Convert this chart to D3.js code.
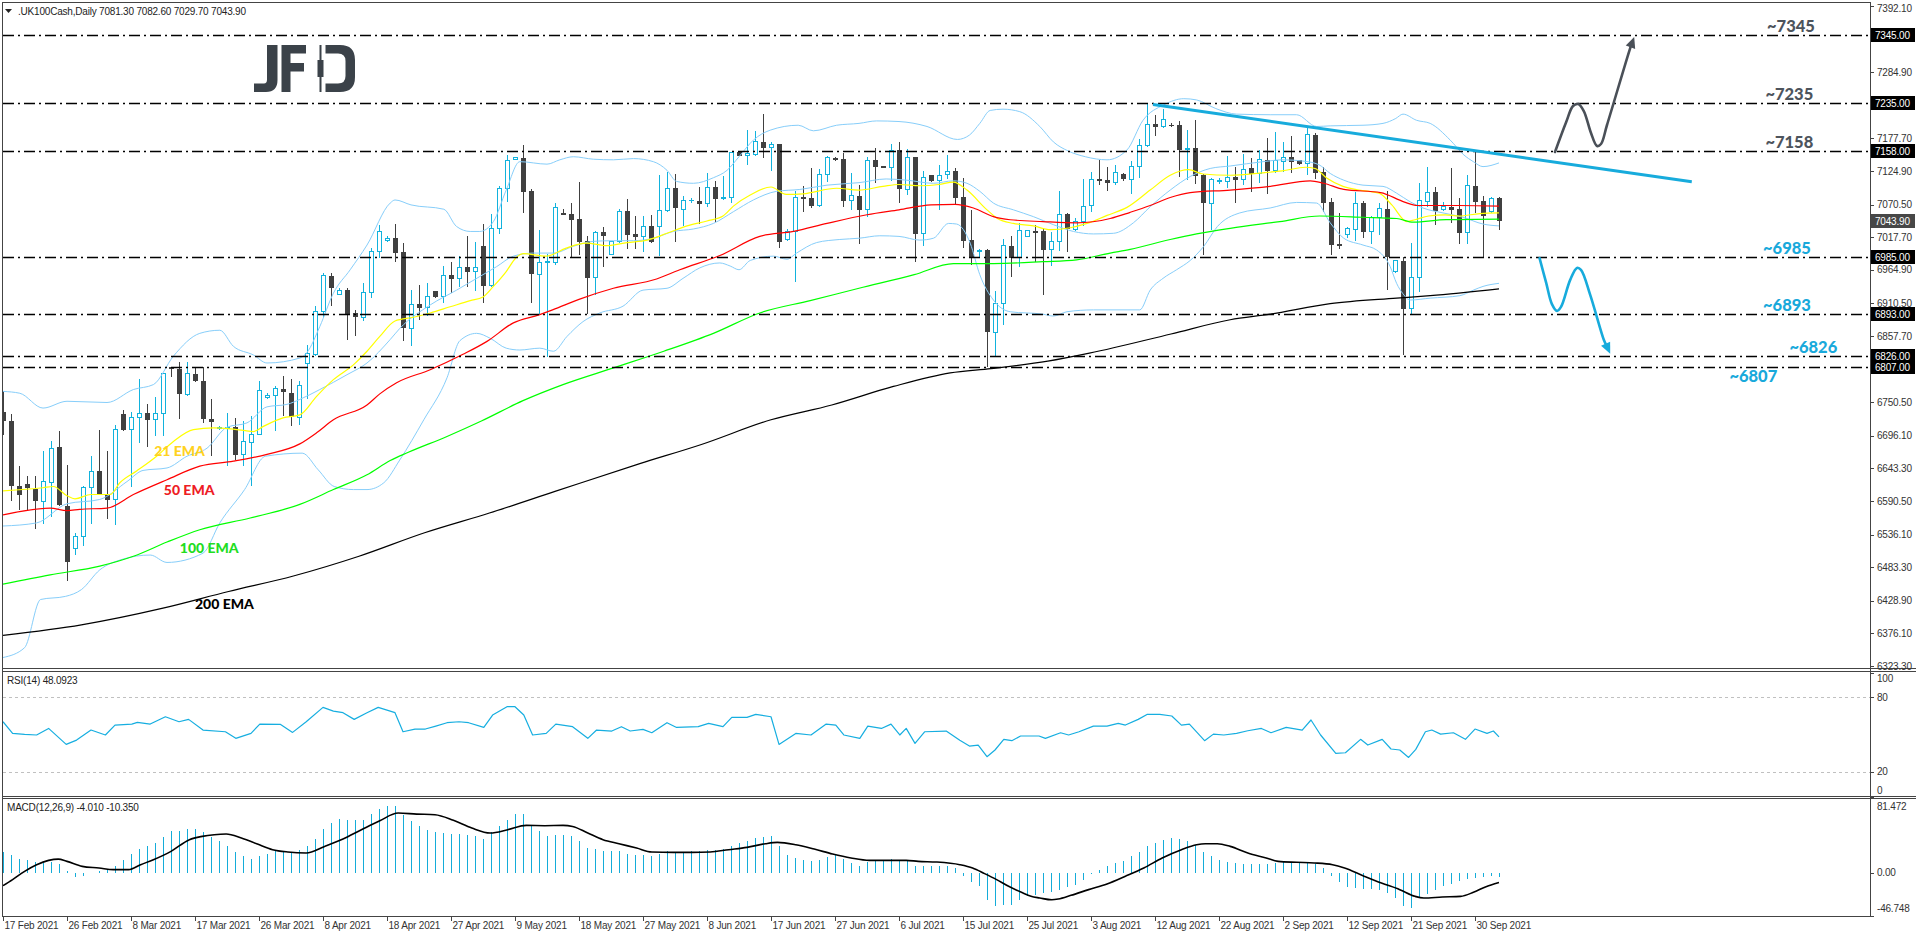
<!DOCTYPE html>
<html>
<head>
<meta charset="utf-8">
<script src="https://cdn.jsdelivr.net/npm/d3@7"></script>
<style>
  html, body { margin: 0; padding: 0; background: #fff; overflow: hidden; }
  svg text { font-family: "Liberation Sans", Arial, sans-serif; }
</style>
</head>
<body>
<svg id="chart" width="1916" height="936"></svg>
<script>
// ---- daily candles (bar 0 = 17 Feb 2021) ----
const opens = [
  6734.5,6720.5,6615.4,6618.6,6610.5,6590.0,6620.7,6677.4,6583.0,6512.9,
  6532.3,6611.6,6639.6,6600.8,6592.7,6731.8,6705.9,6726.4,6732.9,6723.2,
  6732.9,6806.8,6804.6,6763.6,6796.5,6785.2,6723.7,6708.1,6708.1,6710.3,
  6665.5,6685.5,6698.9,6758.3,6761.5,6772.3,6765.3,6726.4,6813.8,6827.3,
  6897.4,6955.1,6925.4,6932.5,6894.7,6888.2,6928.7,6994.5,7011.7,7016.0,
  6993.4,6870.4,6909.2,6904.4,6930.8,6921.6,6956.7,6951.3,6969.1,6962.1,
  7003.6,6939.4,7032.2,7095.8,7143.8,7146.0,7092.6,6957.8,6976.6,6976.6,
  7056.5,7055.4,7047.3,7011.7,6952.4,7025.7,6990.1,7010.6,7059.7,7023.0,
  7018.7,7036.0,7034.9,7060.8,7096.9,7062.9,7076.4,7076.4,7072.1,7099.6,
  7080.2,7082.3,7155.2,7150.3,7151.9,7172.4,7163.2,7168.6,7014.4,7026.8,
  7082.3,7081.3,7068.9,7119.6,7145.4,7143.8,7077.5,7084.5,7062.9,7142.7,
  7132.5,7130.3,7158.9,7095.3,7147.1,7023.0,7118.5,7109.3,7119.6,7124.9,
  7082.3,7013.3,6995.0,6997.1,6863.4,6910.8,7003.6,6984.7,7018.7,7027.9,
  7027.9,6998.2,7010.6,7055.4,7029.5,7043.0,7068.3,7112.0,7110.4,7106.6,
  7119.6,7111.5,7132.0,7165.9,7201.0,7196.7,7199.4,7199.4,7160.0,7161.6,
  7118.5,7072.6,7107.2,7107.7,7114.7,7111.5,7129.3,7121.2,7142.7,7125.5,
  7140.1,7147.1,7142.7,7137.4,7183.2,7123.3,7074.8,7006.9,7022.5,7030.6,
  7073.2,7026.8,7050.0,7063.5,6962.1,6979.3,6901.7,6952.9,7075.3,7091.0,
  7062.9,7066.7,7063.5,7025.2,7100.7,7076.4,7059.2,7081.3
];
const highs = [
  6769.0,6731.3,6647.7,6630.4,6630.4,6672.0,6687.1,6704.3,6648.2,6538.8,
  6615.4,6662.8,6705.9,6670.9,6714.0,6737.2,6734.0,6787.9,6748.0,6758.8,
  6797.6,6807.3,6815.4,6814.9,6807.3,6807.3,6755.6,6712.4,6732.9,6724.8,
  6719.4,6727.5,6784.1,6765.3,6777.1,6793.3,6787.9,6785.2,6843.5,6906.6,
  6960.5,6959.4,6936.2,6935.1,6900.1,6944.3,6999.9,7037.6,7019.8,7038.7,
  7007.9,6932.4,6940.5,6944.3,6930.8,6971.3,6977.7,6987.4,7019.8,7009.5,
  7038.7,7054.8,7100.7,7150.8,7148.1,7167.0,7095.8,7029.5,6990.7,7072.6,
  7063.5,7072.6,7106.6,7019.8,7028.4,7033.8,7010.6,7063.5,7079.7,7052.1,
  7052.1,7053.8,7118.5,7123.9,7119.6,7084.5,7080.7,7098.5,7121.2,7109.3,
  7116.9,7156.2,7157.8,7191.3,7189.7,7217.2,7171.3,7168.6,7030.6,7092.6,
  7100.7,7129.3,7128.2,7149.2,7147.1,7153.5,7121.2,7102.3,7147.1,7161.6,
  7133.6,7168.6,7171.3,7160.0,7147.1,7125.0,7118.5,7134.7,7150.8,7130.3,
  7113.1,7061.9,6998.2,6998.2,6930.8,7014.4,7019.8,7040.3,7028.4,7037.6,
  7033.3,7025.7,7092.6,7056.5,7048.4,7111.5,7123.3,7142.7,7130.9,7134.7,
  7121.2,7141.1,7176.2,7234.4,7215.6,7224.7,7202.1,7205.8,7191.3,7207.5,
  7119.6,7113.1,7113.1,7149.2,7132.0,7152.5,7145.4,7158.9,7178.9,7188.6,
  7172.4,7182.1,7142.7,7195.6,7185.9,7132.0,7081.8,7057.5,7033.8,7091.5,
  7076.4,7052.7,7072.6,7092.6,6979.9,6985.3,7007.9,7105.0,7130.9,7098.5,
  7074.3,7129.3,7080.7,7118.5,7158.9,7084.5,7082.3,7082.6
];
const lows = [
  6697.9,6590.0,6576.5,6576.5,6545.2,6553.3,6564.1,6581.9,6460.6,6502.6,
  6517.2,6553.3,6599.7,6561.9,6551.2,6703.2,6613.2,6684.4,6677.4,6695.2,
  6695.2,6791.2,6723.2,6759.9,6783.1,6716.7,6662.8,6704.9,6647.7,6657.4,
  6647.7,6614.3,6696.8,6755.6,6703.2,6727.5,6711.3,6714.0,6756.1,6824.6,
  6886.6,6905.5,6924.4,6851.6,6857.0,6881.2,6919.0,6983.7,7010.7,6978.3,
  6850.4,6840.7,6883.9,6889.3,6920.0,6910.8,6927.0,6937.8,6937.8,6930.8,
  6910.8,6937.8,7023.0,7075.3,7142.7,7057.5,6910.8,6893.6,6822.9,6972.9,
  7053.8,6986.4,6989.0,6893.1,6923.3,6970.2,6989.0,7009.0,6998.8,6998.8,
  6993.4,7009.0,6988.0,7059.2,7010.6,7036.0,7073.7,7039.2,7067.3,7043.0,
  7078.0,7073.7,7149.8,7135.2,7149.8,7146.5,7125.5,7000.9,7012.2,6945.9,
  7059.2,7064.5,7067.3,7107.7,7141.7,7067.3,7061.9,7006.8,7050.0,7106.1,
  7130.3,7109.3,7073.7,7086.1,6978.3,7003.6,7107.7,7061.9,7111.5,7071.0,
  7000.9,6972.9,6983.6,6807.3,6824.6,6875.8,6954.0,6970.2,7018.2,6978.3,
  6924.3,6971.8,6996.1,6993.9,7027.9,7036.0,7059.2,7102.3,7093.1,7102.3,
  7108.8,7087.2,7114.2,7164.3,7182.1,7194.0,7196.7,7115.8,7110.4,7103.9,
  6989.0,7029.5,7103.4,7098.0,7073.7,7102.3,7091.5,7105.0,7087.7,7121.2,
  7123.9,7121.2,7134.7,7118.5,7111.5,7059.2,6989.0,6998.8,7017.1,7011.7,
  7017.1,7006.8,7021.4,6932.4,6960.5,6826.2,6892.0,6928.7,7067.3,7037.6,
  7060.2,7041.4,7006.8,7006.8,7056.5,6985.3,7057.5,7029.7
];
const closes = [
  6719.4,6614.3,6599.7,6611.6,6590.0,6621.3,6676.3,6583.5,6491.3,6532.3,
  6611.6,6638.5,6600.8,6592.7,6705.9,6705.9,6726.4,6732.9,6722.1,6732.9,
  6796.5,6804.1,6763.6,6796.5,6784.1,6723.2,6717.8,6709.7,6710.3,6665.5,
  6687.1,6698.9,6769.0,6762.0,6772.3,6766.3,6725.9,6778.2,6830.0,6897.4,
  6955.1,6935.1,6930.8,6893.6,6887.7,6928.7,6994.5,7026.8,7016.0,6992.8,
  6870.4,6909.2,6903.8,6921.6,6921.6,6955.6,6950.8,6969.1,6962.1,6969.1,
  6939.4,7032.2,7095.8,7141.1,7146.0,7091.5,6957.8,6977.2,6977.7,7066.2,
  7054.3,7046.2,7010.6,6952.4,7025.7,7020.3,7010.6,7059.2,7021.9,7018.7,
  7034.9,7010.6,7060.8,7096.9,7064.5,7076.9,7077.5,7072.1,7098.5,7079.6,
  7082.3,7155.2,7149.8,7152.5,7172.4,7162.7,7168.1,7010.6,7026.8,7082.3,
  7080.2,7068.9,7119.6,7147.1,7143.3,7076.9,7084.5,7061.9,7142.7,7132.0,
  7130.9,7158.9,7095.3,7147.1,7023.0,7114.7,7108.8,7117.4,7124.9,7081.8,
  7011.7,6984.7,6996.1,6863.4,6910.8,7003.6,6983.7,7028.9,7027.9,7025.2,
  6997.1,7010.6,7054.8,7031.1,7043.0,7067.3,7111.5,7109.3,7106.1,7122.8,
  7111.5,7132.0,7165.9,7201.0,7196.7,7207.5,7198.3,7158.9,7161.6,7117.4,
  7072.6,7111.5,7108.8,7114.7,7110.9,7127.6,7120.1,7143.8,7125.5,7141.7,
  7147.1,7140.1,7136.3,7183.2,7122.3,7073.7,7005.8,7004.1,7031.1,7072.6,
  7026.8,7050.0,7063.5,6985.3,6979.3,6901.7,6952.9,7076.4,7090.4,7060.8,
  7066.7,7061.9,7025.2,7100.7,7075.3,7052.1,7080.7,7043.9
];

// ---- indicator lines, [bar, value] points ----
const ema21 = [[0,6607],[5,6612],[6.3,6614],[8,6599],[9,6594],[11,6601],[13.4,6601],[14.6,6620],[16.7,6639],[19.2,6663],[21.3,6687],[23.8,6706],[26.3,6709],[28.8,6707],[31.3,6703],[32.5,6711],[35,6725],[37.1,6730],[39.2,6760],[41.3,6787],[43.8,6811],[45.5,6833],[47.1,6857],[49,6882],[51.3,6888],[53.4,6895],[55.9,6905],[58.4,6915],[60,6921],[61.3,6938],[62.9,6962],[64.1,6984],[65,6991],[67.9,6987],[70.4,7000],[72.9,7008],[75.5,7004],[78,7009],[80.5,7013],[83,7024],[85.5,7036],[88,7044],[90,7052],[91.3,7068],[93.4,7086],[96,7099],[97.9,7087],[100,7088],[104.2,7097],[107,7094],[110,7100],[112,7103],[114.6,7101],[117,7103],[118.8,7107],[120.5,7094],[123,7062],[124.3,7048],[126.3,7040],[128.8,7036],[130.9,7030],[133.4,7033],[135.5,7040],[138,7053],[140.5,7066],[143.4,7094],[145.9,7118],[148.2,7127],[150,7120],[153.4,7118],[157.5,7122],[159.9,7125],[162.8,7131],[164,7129],[165.5,7113],[167.5,7100],[169.5,7094],[172,7089],[173.6,7070],[175.5,7043],[176.5,7046],[178.2,7052],[180.3,7054],[182,7052],[184.6,7056],[187,7057]];
const ema50 = [[0,6568],[5.9,6579],[8,6575],[9.6,6577],[13,6579],[16.3,6601],[20.5,6625],[24.6,6647],[28.8,6655],[33,6666],[37.1,6683],[39.2,6701],[41.3,6722],[45.5,6746],[47.1,6764],[49.2,6782],[53.4,6803],[57.5,6828],[60.5,6849],[63.8,6879],[67,6892],[68.7,6900],[72,6917],[76.3,6935],[81.7,6950],[84.6,6965],[89.6,6988],[94.6,7019],[98.8,7027],[103,7040],[108,7054],[112,7062],[116,7070],[119,7071],[121.3,7065],[123.8,7051],[125.9,7046],[130,7043],[134.2,7041],[138.4,7048],[140.9,7058],[143.4,7069],[145.9,7082],[148.4,7090],[153.4,7094],[158.4,7100],[163.4,7109],[165.1,7105],[167.6,7095],[172.2,7090],[175.1,7075],[176.8,7069],[182,7069],[187,7068]];
const ema100 = [[0,6456],[5.9,6471],[12.1,6485],[16.3,6501],[20.5,6524],[24.6,6544],[30.9,6563],[37.1,6585],[41.3,6609],[45.5,6633],[48.4,6656],[50.6,6669],[55.5,6695],[59.8,6720],[65,6753],[70,6779],[76.3,6806],[82.6,6833],[88.8,6862],[94.6,6895],[100.9,6915],[107,6935],[113.9,6957],[118.8,6975],[123.8,6975],[130,6978],[134.2,6981],[138.4,6992],[140.9,6998],[145.9,7014],[149.2,7023],[153.4,7032],[159.6,7043],[164.6,7052],[170,7050],[174.2,7048],[176.3,7042],[180.4,7046],[187,7047]];
const ema200 = [[0,6373],[9.8,6390],[20,6417],[28.2,6444],[36.3,6469],[44.5,6501],[52.7,6539],[60.8,6571],[69,6606],[79.6,6651],[87.3,6682],[96,6722],[103.6,6746],[111.3,6776],[118.4,6798],[123.5,6805],[130.6,6817],[135.8,6830],[146,6861],[153.4,6884],[158.4,6893],[165.9,6910],[174.2,6919],[178.4,6923],[187,6934]];
const bbUpper = [[0,6768],[2.1,6765],[5,6741],[8,6752],[13,6750],[16.3,6771],[18.8,6779],[21.3,6825],[24.6,6862],[27.1,6867],[28.8,6841],[31.3,6827],[33,6814],[37.1,6822],[38,6831],[39.6,6873],[41.3,6927],[43.4,6965],[45.5,7005],[48.4,7073],[49,7078],[51,7070],[55.1,7063],[56.7,7035],[58.4,7027],[59.6,7027],[61.3,7043],[62.9,7094],[64.6,7140],[68,7136],[69.6,7143],[71.3,7148],[73.8,7144],[76.3,7143],[78.8,7145],[81.3,7140],[83,7126],[84.2,7108],[86.3,7105],[88.8,7114],[90.5,7126],[92,7148],[93.8,7175],[95.9,7191],[99.4,7199],[101.3,7190],[104.2,7199],[107,7202],[109.2,7206],[112,7205],[115.5,7197],[119.3,7176],[120.8,7183],[122.1,7202],[123.4,7223],[125,7225],[127.1,7221],[129.6,7197],[131.3,7172],[133.2,7157],[135.3,7148],[138,7143],[140.5,7159],[142.5,7207],[145.1,7232],[147.6,7242],[149.2,7240],[151.6,7226],[154.2,7217],[158.4,7216],[161.7,7216],[164.2,7197],[165.9,7198],[170,7199],[172.5,7202],[174.1,7210],[175,7217],[176.7,7207],[178.4,7202],[180.9,7175],[182.6,7151],[183.8,7140],[185,7132],[187,7138]];
const bbMiddle = [[0,6550],[4.2,6555],[8,6586],[12.1,6593],[15.5,6622],[17.5,6640],[20.5,6644],[23,6663],[25.5,6676],[28,6710],[30.5,6717],[33,6743],[35.5,6747],[37.1,6755],[39.6,6771],[43,6795],[45.5,6814],[48.4,6852],[49.6,6870],[53.4,6908],[56.7,6932],[59.6,6954],[61.7,6970],[63.8,6987],[66.3,6992],[68.8,6992],[71.3,7003],[73.8,7011],[76.3,7012],[78.8,7012],[81.3,7016],[83.8,7027],[86.3,7031],[88.8,7040],[91.3,7059],[93.8,7078],[96.7,7092],[99.6,7095],[103,7102],[107,7106],[110.4,7112],[113,7110],[116.3,7105],[118.8,7109],[120.5,7105],[122.1,7092],[123.8,7073],[126.3,7062],[128.8,7051],[131.3,7038],[133.8,7027],[136.3,7023],[138.8,7024],[141.3,7041],[143.4,7067],[145.9,7094],[148.4,7116],[150.9,7129],[153.4,7133],[157.5,7140],[160,7143],[162.5,7141],[164.5,7135],[165.9,7121],[167.6,7110],[170,7102],[172.5,7100],[174.2,7089],[175.9,7075],[177.5,7065],[180,7057],[182.5,7050],[185,7039],[187,7036]];
const bbLower = [[0,6337],[2.7,6353],[4.7,6431],[7.8,6436],[9.8,6447],[12.1,6479],[14.9,6496],[18.4,6503],[20.5,6491],[25,6506],[27.1,6555],[30.2,6609],[32.8,6663],[37.4,6668],[39.4,6641],[41.4,6614],[43.8,6609],[45.5,6609],[47.6,6620],[49.6,6657],[52.6,6722],[55.5,6790],[57.1,6850],[59.2,6862],[60.9,6854],[62.9,6838],[64.6,6835],[67.1,6838],[68.8,6833],[70.5,6857],[72.5,6881],[74.6,6895],[77.5,6906],[80,6932],[83,6935],[85,6951],[87.1,6968],[89.6,6976],[90.9,6971],[92,6965],[93.4,6980],[96.3,6987],[98,6982],[99.2,6992],[101.7,7009],[104.6,7014],[107,7016],[109.6,7020],[112,7019],[114.6,7013],[116.3,7016],[118.2,7040],[119.2,7039],[120.9,7008],[122.1,6957],[123.8,6916],[125.9,6897],[130,6893],[131.3,6890],[133,6897],[136.3,6900],[142.1,6900],[143.4,6932],[145,6951],[146.7,6965],[148.4,6980],[150.1,7003],[151.8,7035],[154.6,7057],[158.4,7065],[161.7,7074],[164.2,7073],[165.9,7041],[167.6,7016],[170,7005],[171.7,6997],[173.4,6970],[174.2,6943],[175,6926],[175.9,6916],[178.4,6919],[182.1,6923],[183.8,6932],[185,6938],[187,6943]];

const rsi14 = [[0,60.3],[1.2,50.9],[2.7,50.1],[4.2,49.6],[5.7,54.9],[7.9,42.0],[9.2,45.5],[11,53.6],[12.8,49.6],[14,57.6],[16.1,58.4],[16.8,59.8],[18.4,58.4],[20.3,64.3],[22,60.3],[23.2,62.2],[25,53.6],[27.8,52.2],[29.1,46.9],[31,50.9],[32.1,58.4],[34.7,58.1],[36.2,51.7],[37.9,60.3],[40,71.9],[41.3,68.9],[42.5,67.6],[43.9,62.2],[45.5,67.6],[46.9,71.9],[49,67.6],[50,52.2],[51.5,54.4],[52.8,54.4],[54.1,56.8],[55.5,59.5],[57,60.3],[58.2,59.5],[60.1,55.7],[61.2,65.7],[63,72.4],[64,72.4],[65.1,65.7],[66.2,49.6],[67.9,50.9],[69.1,58.4],[71.2,56.3],[73.1,46.9],[74.2,53.6],[76.1,52.8],[77.3,56.3],[78.4,52.8],[80,54.1],[81.1,51.4],[83,59.5],[84.2,55.7],[86.9,56.3],[88.2,59],[90,56.3],[91.1,63.8],[93,63.8],[94.1,66.2],[96,64.3],[97,42],[99.1,50.9],[101,49.6],[102.9,58.4],[104.1,57.6],[105.1,49.6],[107.1,46.9],[108.1,56.8],[109.8,54.9],[111,58.4],[112.1,49.6],[112.9,54.9],[114,42.8],[115.2,52.2],[117.9,52.8],[119.6,45.3],[120.8,40.7],[121.9,41.5],[123,32.1],[124,37.5],[125.1,46.1],[126.1,45],[127.2,48.8],[129.5,48.8],[130.3,46.9],[132.2,51.4],[133.2,49.6],[134.5,52.2],[136.3,56.8],[138,56.8],[139.4,59],[140.3,57.6],[141.9,62.2],[143,66.2],[144.6,66.2],[146.1,64.9],[147.3,57.6],[148.3,58.4],[150.2,45],[151.3,50.3],[152.6,49.6],[154.2,50.9],[155.6,53],[157.3,54.9],[158.5,51.4],[160.4,55.7],[162.4,53.6],[163.5,61.7],[164.7,49.6],[166.6,34.8],[167.8,35.3],[169.7,46.1],[170.6,41.5],[172.4,46.1],[173.5,38.3],[174.6,37.5],[175.7,31.5],[176.6,38],[177.8,52.2],[178.6,53.6],[179.7,50.3],[181.3,51.4],[182.8,46.1],[184,54.4],[185.5,50.9],[186.3,52.8],[187,48.1]];
const rsiLevels = [80, 20];

const macdMain = [
  22.4,19.9,15.5,14.4,11.9,10.9,11.9,10.1,1.8,-4.7,
  -3.0,-0.5,1.8,3.6,8.0,14.5,20.9,26.0,28.9,32.5,
  39.0,45.2,45.2,47.7,47.7,44.1,38.7,34.3,29.6,22.4,
  18.8,15.1,18.8,20.9,24.2,23.5,21.7,25.3,28.9,37.3,
  48.1,54.3,59.0,57.9,57.2,57.2,64.4,69.8,73.1,73.1,
  63.3,56.8,51.4,47.0,44.1,43.4,42.7,42.7,41.6,40.5,
  37.3,44.1,51.4,57.9,64.4,64.4,52.5,45.9,39.8,41.6,
  40.9,39.8,34.3,27.1,26.4,24.2,24.2,23.5,20.9,19.9,
  19.9,18.8,20.9,23.5,22.8,22.8,23.5,23.5,24.6,25.3,
  26.0,28.9,32.5,34.3,38.0,38.7,40.5,28.9,19.9,16.3,
  14.5,13.4,14.5,17.3,19.2,15.1,10.9,8.0,11.9,12.6,
  13.7,15.5,13.4,12.6,7.2,7.2,7.2,7.2,8.0,5.4,
  -3.6,-9.8,-14.5,-29.7,-36.2,-34.4,-34.4,-29.7,-25.4,-23.5,
  -21.7,-21.0,-18.1,-15.2,-12.7,-7.2,-0.7,3.6,8.0,10.9,
  13.4,18.1,22.4,28.9,32.5,35.4,38.0,36.9,35.1,30.7,
  22.8,18.1,14.5,11.6,10.9,10.1,10.1,9.8,10.1,10.9,
  11.6,11.6,10.9,11.6,9.8,5.4,-3.6,-10.2,-15.2,-16.3,
  -17.1,-17.4,-18.1,-21.7,-27.2,-36.2,-38.0,-26.1,-22.8,-18.8,
  -14.5,-12.0,-9.1,-6.5,-5.4,-4.7,-2.9,-4.0
];
const macdSignal = [[0,-13.8],[1.2,-7.2],[2.7,1.8],[4.2,9],[5.7,13.7],[6.9,15.1],[8,12.6],[9.9,7.2],[12,5.4],[13.8,3.6],[15.7,3.6],[17.2,9],[18.8,14.4],[21,23.5],[23.3,36.2],[24.9,39.8],[26.4,41.6],[27.9,42.3],[29.8,38],[31.8,31.4],[33.7,25.3],[35.6,22.8],[37.9,21.7],[40.2,28.9],[42.5,36.9],[44.8,47],[47.1,56.8],[49.4,65.1],[51.7,64],[54,63.3],[56.3,57.2],[58.6,48.8],[60.9,43.4],[63.1,47],[65.4,51.7],[67.7,51.4],[70,51.7],[71.2,50.6],[73.1,43.4],[75,36.2],[77,31.8],[79.2,27.1],[81.1,22.8],[83.8,22.4],[86.1,22.4],[88.4,22.8],[90.7,25.3],[93,27.8],[95.3,31.8],[96.8,33.2],[99.1,30.7],[101.4,26],[103.7,20.6],[106,16.3],[108.3,13.7],[110.6,13.7],[112.9,13.7],[114.4,12.6],[116.7,11.9],[119.6,9],[121.2,5.4],[122.7,-0.7],[124.2,-7.2],[125.7,-14.5],[127.3,-21],[128.5,-25.4],[129.6,-27.2],[131.1,-29.1],[131.9,-28.3],[133.5,-24.3],[135.7,-18.1],[138,-12],[140.3,-3.6],[142.6,5.4],[144.9,16.3],[147.3,25.3],[149.2,30.7],[150.3,31.8],[151.8,31.8],[153.4,28.9],[155.6,21.7],[157.9,16.3],[159.4,12.6],[161.7,11.6],[163.9,10.9],[166.2,9],[167.7,5.4],[170,-2.9],[172.3,-10.9],[174.6,-18.1],[176.5,-25.4],[177.6,-27.2],[179.9,-26.1],[182.2,-25.4],[183.8,-21],[185.3,-15.2],[187,-10.35]];

// ---- axis labels ----
const dateLabels = ['17 Feb 2021','26 Feb 2021','8 Mar 2021','17 Mar 2021','26 Mar 2021','8 Apr 2021','18 Apr 2021','27 Apr 2021','9 May 2021','18 May 2021','27 May 2021','8 Jun 2021','17 Jun 2021','27 Jun 2021','6 Jul 2021','15 Jul 2021','25 Jul 2021','3 Aug 2021','12 Aug 2021','22 Aug 2021','2 Sep 2021','12 Sep 2021','21 Sep 2021','30 Sep 2021'];
// scale labels that are not covered by the level boxes
const priceTicks = [7392.10,7284.90,7177.70,7124.90,7070.50,7017.70,6964.90,6910.50,6857.70,6750.50,6696.10,6643.30,6590.50,6536.10,6483.30,6428.90,6376.10,6323.30];
const rsiTicks = [100, 80, 20, 0];
const macdTicks = [81.472, 0, -46.748];

// ---- drawn objects ----
const levels = [7345, 7235, 7158, 6985, 6893, 6826, 6807];
const levelNotes = ['~7345','~7235','~7158','~6985','~6893','~6826','~6807'];
const levelNoteBar = [220.5, 220.3, 220.3, 220.0, 220.0, 223.3, 215.8];
const levelNoteBelow = [false, false, false, false, false, false, true];
const trendBars = [143.75, 211.1];
const trendVals = [7232.5, 7107.6];
const upPath = [[194.0,7155.7],[195.4,7204.2],[196.25,7230.1],[196.9,7233.4],[197.6,7222.0],[198.5,7186.4],[199.25,7165.4],[199.75,7168.6],[200.5,7199.4],[203.4,7324.0],[203.9,7342.0]];
const downPath = [[192.07,6983.7],[192.9,6943.7],[193.6,6909.8],[194.25,6898.4],[194.75,6904.9],[195.9,6948.6],[196.75,6968.0],[197.25,6964.8],[198.4,6924.3],[200.1,6851.5],[200.9,6829.0]];
const emaNames = ['21 EMA','50 EMA','100 EMA','200 EMA'];
const emaNameBar = [18.9, 20.1, 22.1, 24.0];
const emaNameVal = [6672, 6609, 6515, 6424];

const BULL = '#12b2dd', BEAR = '#404040', CYAN = '#17abdc', GREY = '#4a5058';
const axisX = 1870;

const svg = d3.select('#chart');
const x = d3.scaleLinear().domain([0, 1]).range([3, 11]);          // 8 px per bar
const yMain = d3.scaleLinear().domain([6323.3, 7392.1]).range([666, 6]);
const yRsi = d3.scaleLinear().domain([0, 100]).range([796.5, 672.5]);
const yMacd = d3.scaleLinear().domain([-46.748, 81.472]).range([916, 798]);

const defs = svg.append('defs');
defs.append('clipPath').attr('id', 'clipMain').append('rect').attr('x', 3).attr('y', 3).attr('width', axisX - 3).attr('height', 665);
defs.append('clipPath').attr('id', 'clipRsi').append('rect').attr('x', 3).attr('y', 672).attr('width', axisX - 3).attr('height', 124);
defs.append('clipPath').attr('id', 'clipMacd').append('rect').attr('x', 3).attr('y', 799).attr('width', axisX - 3).attr('height', 117);

const main = svg.append('g').attr('clip-path', 'url(#clipMain)');

function pts(g, data, yScale, color, width, curve) {
  g.append('path').datum(data)
    .attr('fill', 'none').attr('stroke', color).attr('stroke-width', width)
    .attr('stroke-linejoin', 'round')
    .attr('d', d3.line().x(d => x(d[0])).y(d => yScale(d[1])).curve(curve || d3.curveMonotoneX));
}

// candles
const bars = opens.map((o, i) => ({i, o, h: highs[i], l: lows[i], c: closes[i]}));
const gCandles = main.append('g').attr('shape-rendering', 'crispEdges');
gCandles.selectAll('line').data(bars).join('line')
  .attr('x1', d => x(d.i) + 0.5).attr('x2', d => x(d.i) + 0.5)
  .attr('y1', d => yMain(d.h)).attr('y2', d => yMain(d.l))
  .attr('stroke', d => d.c >= d.o ? BULL : BEAR).attr('stroke-width', 1);
gCandles.selectAll('rect').data(bars).join('rect')
  .attr('x', d => d.c >= d.o ? x(d.i) - 1.5 : x(d.i) - 2)
  .attr('width', d => d.c >= d.o ? 4 : 5)
  .attr('y', d => d.c >= d.o ? yMain(d.c) : yMain(d.o))
  .attr('height', d => Math.max(Math.abs(yMain(d.o) - yMain(d.c)), d.c >= d.o ? 0.5 : 1.5))
  .attr('fill', d => d.c >= d.o ? '#fff' : BEAR)
  .attr('stroke', d => d.c >= d.o ? BULL : 'none').attr('stroke-width', 1);

// indicators over the candles
pts(main, bbUpper, yMain, '#87cefa', 1);
pts(main, bbMiddle, yMain, '#87cefa', 1);
pts(main, bbLower, yMain, '#87cefa', 1);
pts(main, ema21, yMain, '#ffff00', 1.2);
pts(main, ema50, yMain, '#ff0000', 1.2);
pts(main, ema100, yMain, '#00ff00', 1.2);
pts(main, ema200, yMain, '#000000', 1.2);

// horizontal levels
main.append('g').selectAll('line').data(levels).join('line')
  .attr('x1', 3).attr('x2', axisX)
  .attr('y1', d => Math.round(yMain(d)) + 0.5).attr('y2', d => Math.round(yMain(d)) + 0.5)
  .attr('stroke', '#000').attr('stroke-width', 1.3).attr('stroke-dasharray', '11,4,2,4');

// trendline
main.append('line')
  .attr('x1', x(trendBars[0])).attr('y1', yMain(trendVals[0]))
  .attr('x2', x(trendBars[1])).attr('y2', yMain(trendVals[1]))
  .attr('stroke', CYAN).attr('stroke-width', 3);

// scenario arrows
function arrow(path, color) {
  const line = d3.line().x(d => x(d[0])).y(d => yMain(d[1])).curve(d3.curveCatmullRom.alpha(0.5));
  const n = path.length;
  const tip = [x(path[n - 1][0]), yMain(path[n - 1][1])];
  const prev = [x(path[n - 2][0]), yMain(path[n - 2][1])];
  const dx = tip[0] - prev[0], dy = tip[1] - prev[1], len = Math.hypot(dx, dy);
  const ux = dx / len, uy = dy / len, L = 11, Wd = 5;
  const bx = tip[0] - ux * L, by = tip[1] - uy * L;
  main.append('path').datum(path.slice(0, n - 1).concat([[path[n - 1][0] - (path[n - 1][0] - path[n - 2][0]) * 0.6, path[n - 1][1] - (path[n - 1][1] - path[n - 2][1]) * 0.6]]))
    .attr('fill', 'none').attr('stroke', color).attr('stroke-width', 2.6)
    .attr('stroke-linecap', 'round').attr('d', line);
  main.append('path')
    .attr('d', `M${tip[0]},${tip[1]}L${bx - uy * Wd},${by + ux * Wd}L${bx + uy * Wd},${by - ux * Wd}Z`)
    .attr('fill', color);
}
arrow(upPath, GREY);
arrow(downPath, CYAN);

// level notes
main.append('g').selectAll('text').data(levelNotes).join('text')
  .attr('x', (d, i) => x(levelNoteBar[i]))
  .attr('y', (d, i) => yMain(levels[i]) + (levelNoteBelow[i] ? 9 : -9))
  .attr('dominant-baseline', 'central')
  .style('font-family', 'Lato, "Open Sans", sans-serif').style('font-weight', 900).style('font-size', '16.5px')
  .attr('fill', (d, i) => i < 3 ? '#4d545c' : '#19a9db')
  .text(d => d);

// EMA names
const emaColors = ['#ffd21f', '#ee1c25', '#22dd22', '#000000'];
main.append('g').selectAll('text').data(emaNames).join('text')
  .attr('x', (d, i) => x(emaNameBar[i])).attr('y', (d, i) => yMain(emaNameVal[i]))
  .attr('dominant-baseline', 'central')
  .style('font-family', 'Lato, "Open Sans", sans-serif').style('font-weight', 900).style('font-size', '14px')
  .attr('fill', (d, i) => emaColors[i]).text(d => d);

// JFD logo
const logo = svg.append('g').attr('fill', '#3b4249');
logo.append('path').attr('d', 'M267,45H277.5V80Q277.5,92 266,92H254V83.5H264Q267,83.5 267,79.5Z');
logo.append('path').attr('d', 'M281.5,45H306V53.5H290.5V63H304V71.5H290.5V92H281.5Z');
logo.append('rect').attr('x', 319.5).attr('y', 45).attr('width', 2).attr('height', 47);
logo.append('rect').attr('x', 317.5).attr('y', 60).attr('width', 6).attr('height', 17);
logo.append('path').attr('d', 'M325.5,45H340Q355,45 355,60V77Q355,92 340,92H325.5V83.5H338Q345.5,83.5 345.5,76V61Q345.5,53.5 338,53.5H325.5Z');

// header
svg.append('path').attr('d', 'M5,9H12L8.5,13Z').attr('fill', '#222');
svg.append('text').attr('x', 18).attr('y', 14.5).attr('font-size', 10).attr('letter-spacing', -0.2).attr('fill', '#222')
  .text('.UK100Cash,Daily  7081.30 7082.60 7029.70 7043.90');

// RSI pane
const rsiG = svg.append('g').attr('clip-path', 'url(#clipRsi)');
rsiG.selectAll('line').data(rsiLevels).join('line')
  .attr('x1', 3).attr('x2', axisX)
  .attr('y1', d => Math.round(yRsi(d)) + 0.5).attr('y2', d => Math.round(yRsi(d)) + 0.5)
  .attr('stroke', '#c0c0c0').attr('stroke-dasharray', '3,3');
pts(rsiG, rsi14, yRsi, '#16aee0', 1.2, d3.curveLinear);
svg.append('text').attr('x', 7).attr('y', 684).attr('font-size', 10).attr('letter-spacing', -0.2).attr('fill', '#222')
  .text('RSI(14) 48.0923');

// MACD pane
const macdG = svg.append('g').attr('clip-path', 'url(#clipMacd)');
macdG.append('g').attr('shape-rendering', 'crispEdges').selectAll('line').data(macdMain).join('line')
  .attr('x1', (d, i) => x(i) + 0.5).attr('x2', (d, i) => x(i) + 0.5)
  .attr('y1', yMacd(0)).attr('y2', d => yMacd(d))
  .attr('stroke', '#14acd9').attr('stroke-width', 1);
pts(macdG, macdSignal, yMacd, '#000', 1.6);
svg.append('text').attr('x', 7).attr('y', 811).attr('font-size', 10).attr('letter-spacing', -0.2).attr('fill', '#222')
  .text('MACD(12,26,9) -4.010 -10.350');

// frames and separators
const frame = svg.append('g').attr('stroke', '#444').attr('stroke-width', 1).attr('shape-rendering', 'crispEdges');
frame.append('line').attr('x1', 2).attr('x2', axisX).attr('y1', 2.5).attr('y2', 2.5);
frame.append('line').attr('x1', 2.5).attr('x2', 2.5).attr('y1', 2).attr('y2', 916);
frame.append('line').attr('x1', axisX + 0.5).attr('x2', axisX + 0.5).attr('y1', 2).attr('y2', 916);
[668.5, 671.5, 796.5, 798.5].forEach(yy => {
  frame.append('line').attr('x1', 2).attr('x2', 1916).attr('y1', yy).attr('y2', yy);
});
frame.append('line').attr('x1', 2).attr('x2', axisX).attr('y1', 916.5).attr('y2', 916.5);

// right price axis
const axisText = svg.append('g').attr('font-size', 10).attr('letter-spacing', -0.2).attr('fill', '#333');
function rightLabels(ticks, scale, lo, hi, fmt) {
  ticks.forEach(v => {
    const yy = scale(v);
    svg.append('line').attr('x1', axisX).attr('x2', axisX + 4)
      .attr('y1', Math.round(yy) + 0.5).attr('y2', Math.round(yy) + 0.5)
      .attr('stroke', '#444').attr('shape-rendering', 'crispEdges');
    axisText.append('text').attr('x', axisX + 7).attr('y', Math.min(Math.max(yy, lo), hi))
      .attr('dominant-baseline', 'central').text(fmt(v));
  });
}
rightLabels(priceTicks, yMain, 8, 666, d3.format('.2f'));
rightLabels(rsiTicks, yRsi, 678, 790, d3.format('d'));
rightLabels(macdTicks, yMacd, 806, 908, v => v === 0 ? '0.00' : String(v));

// price boxes on the axis
const boxVals = levels.concat([7043.9]);
const boxes = svg.append('g');
boxVals.forEach((v, i) => {
  const yy = Math.round(yMain(v));
  boxes.append('rect').attr('x', axisX + 1).attr('y', yy - 7).attr('width', 44).attr('height', 14)
    .attr('fill', i < levels.length ? '#000' : '#474747');
  boxes.append('text').attr('x', axisX + 5).attr('y', yy + 0.5).attr('dominant-baseline', 'central')
    .attr('font-size', 10).attr('letter-spacing', -0.2).attr('fill', '#fff').text(d3.format('.2f')(v));
});

// date axis
const dateG = svg.append('g');
dateLabels.forEach((t, i) => {
  const xx = Math.round(x(i * 8)) + 0.5;
  dateG.append('line').attr('x1', xx).attr('x2', xx).attr('y1', 916).attr('y2', 921)
    .attr('stroke', '#444').attr('shape-rendering', 'crispEdges');
  dateG.append('text').attr('x', xx + 1).attr('y', 929).attr('font-size', 10).attr('letter-spacing', -0.2)
    .attr('fill', '#333').text(t);
});
</script>
</body>
</html>
